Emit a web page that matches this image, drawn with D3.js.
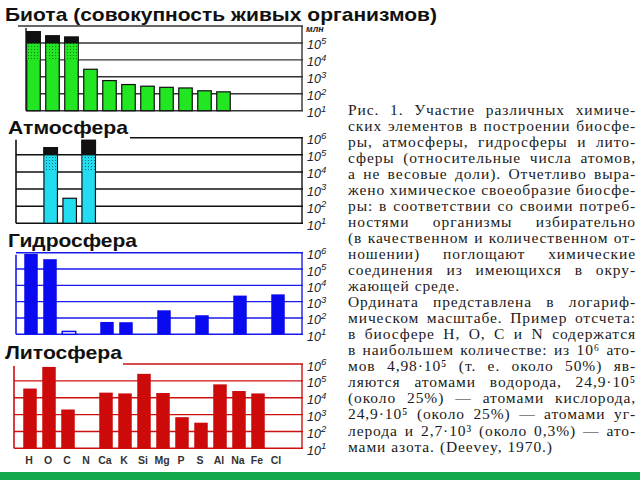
<!DOCTYPE html>
<html><head><meta charset="utf-8">
<script src="https://cdn.jsdelivr.net/npm/d3@7"></script>
<style>html,body{margin:0;padding:0;background:#fff;}svg{display:block;}</style>
</head><body>
<svg id="c" width="640" height="480"></svg>
<script>
// ---------- DATA ----------
const elements = ["H","O","C","N","Ca","K","Si","Mg","P","S","Al","Na","Fe","Cl"];
const biotaValues = [4.6e5, 2.6e5, 2.2e5, 2.8e3, 600, 350, 280, 240, 220, 150, 130, null, null, null];
const atmoValues  = [null, 2.6e5, 290, 7e5, null, null, null, null, null, null, null, null, null, null];
const hydroValues = [8.5e5, 4e5, 15, null, 57, 55, null, 295, null, 147, null, 2350, null, 2800];
const lithoValues = [3.5e4, 6.7e5, 2000, null, 2e4, 1.8e4, 2.6e5, 1.9e4, 700, 330, 6.2e4, 2.5e4, 1.8e4, null];
const biotaCapped = ["H","O","C"];
const atmoCapped  = ["O","N"];
const hydroOutlined = ["C"];
const capBase = 1e5;   // black cap above this value
const dotBase = 1e4;   // dotted part between dotBase and capBase
const tickExponents = [1,2,3,4,5,6];
const titles = ["Биота (совокупность живых организмов)", "Атмосфера", "Гидросфера", "Литосфера"];
const captionLines = [
 "Рис. 1. Участие различных химиче-",
 "ских элементов в построении биосфе-",
 "ры, атмосферы, гидросферы и лито-",
 "сферы (относительные числа атомов,",
 "а не весовые доли). Отчетливо выра-",
 "жено химическое своеобразие биосфе-",
 "ры: в соответствии со своими потреб-",
 "ностями организмы избирательно",
 "(в качественном и количественном от-",
 "ношении) поглощают химические",
 "соединения из имеющихся в окру-",
 "жающей среде.|",
 "Ордината представлена в логариф-",
 "мическом масштабе. Пример отсчета:",
 "в биосфере H, O, C и N содержатся",
 "в наибольшем количестве: из 10⁶ ато-",
 "мов 4,98·10⁵ (т. е. около 50%) яв-",
 "ляются атомами водорода, 24,9·10⁵",
 "(около 25%) — атомами кислорода,",
 "24,9·10⁵ (около 25%) — атомами уг-",
 "лерода и 2,7·10³ (около 0,3%) — ато-",
 "мами азота. (Deevey, 1970.)|"
];

// ---------- LAYOUT ----------
const svg = d3.select("#c");
const panels = [
  {values: biotaValues, capped: biotaCapped, outlined: [], left:26, right:302, top:26, bottom:110.7, c0:33.5,
   fill:"#22e622", stroke:"#111", grid:"#333", title:titles[0], tx:5, ty:21, tw:432, topLineFrom:18, topLabel:"млн"},
  {values: atmoValues, capped: atmoCapped, outlined: [], left:16, right:302, top:137.7, bottom:223.3, c0:31.7,
   fill:"#22dcf0", stroke:"#111", grid:"#111", title:titles[1], tx:8, ty:134, tw:120, topLineFrom:130},
  {values: hydroValues, capped: [], outlined: hydroOutlined, left:16, right:302, top:252.7, bottom:334.3, c0:31,
   fill:"#0a0af0", stroke:null, grid:"#1a1aee", title:titles[2], tx:8, ty:246.5, tw:129, topLineFrom:16},
  {values: lithoValues, capped: [], outlined: [], left:14, right:302, top:364, bottom:448.3, c0:30,
   fill:"#cc0a0a", stroke:null, grid:"#cc1010", title:titles[3], tx:5, ty:359, tw:117, topLineFrom:123}
];
const step = 19, barW = 13.5;

// dotted pattern defs
const defs = svg.append("defs");
[["dotG","#22e622","#0a7a0a"],["dotC","#22dcf0","#0a6a70"]].forEach(([id,bg,fg])=>{
  const p = defs.append("pattern").attr("id",id).attr("width",3).attr("height",3).attr("patternUnits","userSpaceOnUse");
  p.append("rect").attr("width",3).attr("height",3).attr("fill",bg);
  p.append("rect").attr("x",1).attr("y",1).attr("width",1).attr("height",1).attr("fill",fg);
});

panels.forEach((P, pi) => {
  const g = svg.append("g");
  const x = d3.scaleBand().domain(elements)
    .range([P.c0 - step/2, P.c0 - step/2 + step*elements.length])
    .paddingInner(1 - barW/step).paddingOuter((1 - barW/step)/2);
  const y = d3.scaleLog().domain([10, 1e6]).range([P.bottom, P.top]);

  // grid lines
  tickExponents.forEach(e => {
    const yy = y(Math.pow(10, e));
    const x1 = e === 6 ? P.topLineFrom : P.left;
    g.append("line").attr("x1", x1).attr("x2", P.right + 1).attr("y1", yy).attr("y2", yy)
      .attr("stroke", P.grid).attr("stroke-width", 1.4);
  });
  // frame verticals
  g.append("line").attr("x1",P.left).attr("x2",P.left).attr("y1",y(1e6)+2).attr("y2",P.bottom)
    .attr("stroke",P.grid).attr("stroke-width",1.6);
  g.append("line").attr("x1",P.right).attr("x2",P.right).attr("y1",y(1e6)).attr("y2",P.bottom)
    .attr("stroke",P.grid).attr("stroke-width",1.4);

  const data = elements.map((el,i)=>({el, v:P.values[i]})).filter(d=>d.v!=null);
  const isGreen = pi===0;
  // base bars
  g.selectAll("rect.bar").data(data).enter().append("rect")
    .attr("x", d=>x(d.el)).attr("width", x.bandwidth())
    .attr("y", d=>y(d.v)).attr("height", d=>P.bottom - y(d.v))
    .attr("fill", d=>P.outlined.includes(d.el) ? "#fff" : P.fill)
    .attr("stroke", d=>P.outlined.includes(d.el) ? P.fill : P.stroke)
    .attr("stroke-width", d=>P.outlined.includes(d.el) ? 1.5 : 1.2);
  // dotted parts & black caps
  const capped = data.filter(d=>P.capped.includes(d.el) && d.v > capBase);
  g.selectAll("rect.dot").data(capped).enter().append("rect")
    .attr("x", d=>x(d.el)+0.6).attr("width", x.bandwidth()-1.2)
    .attr("y", y(capBase)).attr("height", y(dotBase)-y(capBase))
    .attr("fill", isGreen ? "url(#dotG)" : "url(#dotC)");
  g.selectAll("rect.cap").data(capped).enter().append("rect")
    .attr("x", d=>x(d.el)).attr("width", x.bandwidth())
    .attr("y", d=>y(d.v)).attr("height", d=>y(capBase)-y(d.v))
    .attr("fill","#111").attr("stroke","#111").attr("stroke-width",1.2);

  // tick labels
  tickExponents.forEach(e => {
    const yy = y(Math.pow(10, e));
    if (e === 6 && P.topLabel) {
      g.append("text").attr("x", 306).attr("y", yy + 6).text(P.topLabel)
        .attr("font-family","Liberation Sans, Arial, sans-serif").attr("font-style","italic")
        .attr("font-weight","bold").attr("font-size",9).attr("fill","#222");
      return;
    }
    const t = g.append("text").attr("x", 307).attr("y", yy + 6.5)
      .attr("font-family","Liberation Sans, Arial, sans-serif").attr("font-style","italic")
      .attr("font-size",12.5).attr("fill","#222");
    t.append("tspan").text("10");
    t.append("tspan").attr("dy",-5.5).attr("font-size",9.5).text(String(e));
  });

  // title
  svg.append("text").attr("x", P.tx).attr("y", P.ty).text(P.title)
    .attr("font-family","Liberation Sans, Arial, sans-serif").attr("font-weight","bold")
    .attr("font-size", 18.5).attr("fill","#111")
    .attr("textLength", P.tw).attr("lengthAdjust","spacingAndGlyphs");

  // element labels under the last panel
  if (pi === 3) {
    svg.append("g").selectAll("text").data(elements).enter().append("text")
      .attr("x", d=>x(d)+x.bandwidth()/2 - 1).attr("y", 464)
      .attr("text-anchor","middle").text(d=>d)
      .attr("font-family","Liberation Sans, Arial, sans-serif").attr("font-weight","bold")
      .attr("font-size",10.5).attr("fill","#333");
  }
});

// ---------- caption (justified) ----------
const capLeft = 348, capRight = 636, capTop = 114.5, lineH = 16.05;
const cap = svg.append("g").attr("font-family","Liberation Serif, Times New Roman, serif")
  .attr("font-size",15.5).attr("letter-spacing",0.9).attr("fill","#1a1a1a");
captionLines.forEach((raw, li) => {
  const last = raw.endsWith("|");
  const line = raw.replace("|","");
  const words = line.split(" ");
  const yy = capTop + li*lineH;
  const tmp = words.map(w => cap.append("text").attr("y", yy).text(w));
  const widths = tmp.map(t => t.node().getComputedTextLength());
  const total = d3.sum(widths);
  const gap = last || words.length < 2 ? 5 : (capRight - capLeft - total) / (words.length - 1);
  let xx = capLeft;
  tmp.forEach((t,i) => { t.attr("x", xx); xx += widths[i] + gap; });
});

// bottom green band
svg.append("rect").attr("x",0).attr("y",472).attr("width",640).attr("height",8).attr("fill","#12a84c");
</script>
</body></html>
